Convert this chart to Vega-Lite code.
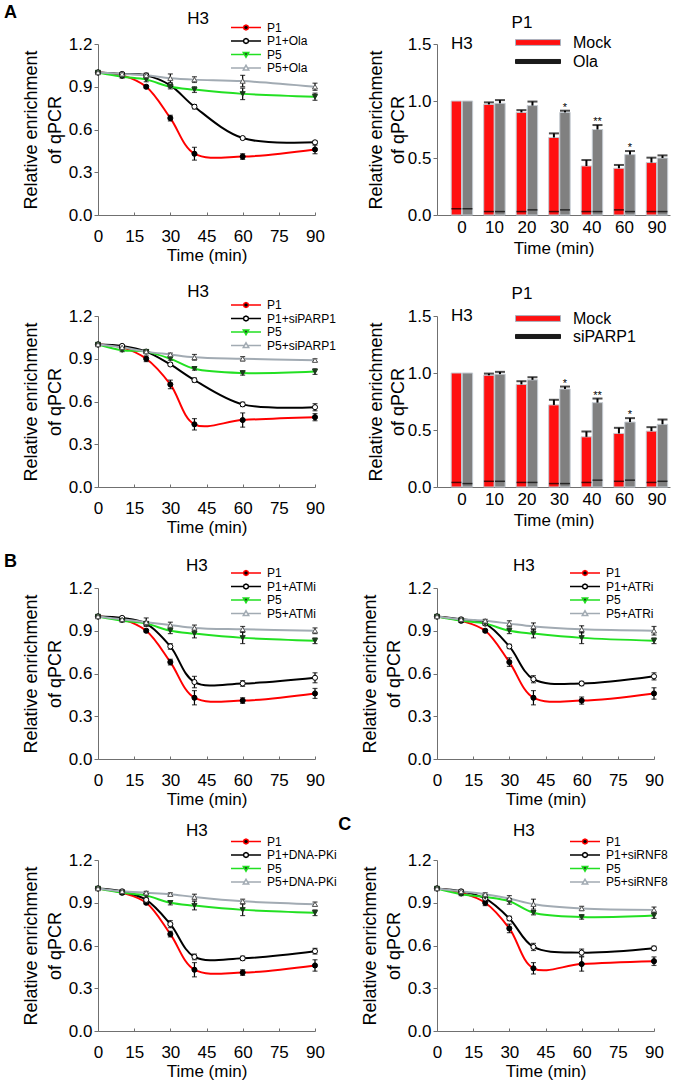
{
"$schema": "https://vega.github.io/schema/vega-lite/v6.json",
"background": "white",
"padding": {"left": 3, "top": 4, "right": 5, "bottom": 2},
"config": {
  "font": "Liberation Sans",
  "view": {"stroke": null},
  "axis": {"grid": false, "domainColor": "#707070", "tickColor": "#707070", "labelColor": "black", "titleColor": "black", "labelFontSize": 17, "titleFontSize": 17, "titleFontWeight": "normal", "labelFont": "Liberation Sans", "titleFont": "Liberation Sans", "labelFlush": false, "labelOverlap": false},
  "legend": {"labelColor": "black", "labelFont": "Liberation Sans", "padding": 0},
  "text": {"font": "Liberation Sans", "color": "black"}
},
"datasets": {
  "ola": [
    {"series":"P1","t":0,"v":1.0,"e":0},{"series":"P1","t":10,"v":0.98,"e":0.01},{"series":"P1","t":20,"v":0.90,"e":0.01},{"series":"P1","t":30,"v":0.68,"e":0.02},{"series":"P1","t":40,"v":0.43,"e":0.045},{"series":"P1","t":60,"v":0.41,"e":0.02},{"series":"P1","t":90,"v":0.46,"e":0.03},
    {"series":"P1+Ola","t":0,"v":1.0,"e":0},{"series":"P1+Ola","t":10,"v":0.99,"e":0.01},{"series":"P1+Ola","t":20,"v":0.98,"e":0.015},{"series":"P1+Ola","t":30,"v":0.91,"e":0.01},{"series":"P1+Ola","t":40,"v":0.76,"e":0.015},{"series":"P1+Ola","t":60,"v":0.54,"e":0.01},{"series":"P1+Ola","t":90,"v":0.51,"e":0.01},
    {"series":"P5","t":0,"v":1.0,"e":0},{"series":"P5","t":10,"v":0.97,"e":0.01},{"series":"P5","t":20,"v":0.95,"e":0.015},{"series":"P5","t":30,"v":0.90,"e":0.015},{"series":"P5","t":40,"v":0.88,"e":0.02},{"series":"P5","t":60,"v":0.85,"e":0.04},{"series":"P5","t":90,"v":0.83,"e":0.025},
    {"series":"P5+Ola","t":0,"v":1.0,"e":0},{"series":"P5+Ola","t":10,"v":0.99,"e":0.01},{"series":"P5+Ola","t":20,"v":0.98,"e":0.01},{"series":"P5+Ola","t":30,"v":0.96,"e":0.03},{"series":"P5+Ola","t":40,"v":0.95,"e":0.02},{"series":"P5+Ola","t":60,"v":0.94,"e":0.04},{"series":"P5+Ola","t":90,"v":0.90,"e":0.025}
  ],
  "parp": [
    {"series":"P1","t":0,"v":1.0,"e":0},{"series":"P1","t":10,"v":0.98,"e":0.01},{"series":"P1","t":20,"v":0.90,"e":0.02},{"series":"P1","t":30,"v":0.72,"e":0.03},{"series":"P1","t":40,"v":0.44,"e":0.04},{"series":"P1","t":60,"v":0.47,"e":0.05},{"series":"P1","t":90,"v":0.49,"e":0.025},
    {"series":"P1+siPARP1","t":0,"v":1.0,"e":0},{"series":"P1+siPARP1","t":10,"v":0.99,"e":0.01},{"series":"P1+siPARP1","t":20,"v":0.95,"e":0.01},{"series":"P1+siPARP1","t":30,"v":0.86,"e":0.01},{"series":"P1+siPARP1","t":40,"v":0.75,"e":0.015},{"series":"P1+siPARP1","t":60,"v":0.58,"e":0.015},{"series":"P1+siPARP1","t":90,"v":0.56,"e":0.025},
    {"series":"P5","t":0,"v":1.0,"e":0},{"series":"P5","t":10,"v":0.96,"e":0.01},{"series":"P5","t":20,"v":0.95,"e":0.01},{"series":"P5","t":30,"v":0.90,"e":0.01},{"series":"P5","t":40,"v":0.83,"e":0.01},{"series":"P5","t":60,"v":0.80,"e":0.015},{"series":"P5","t":90,"v":0.81,"e":0.02},
    {"series":"P5+siPARP1","t":0,"v":1.0,"e":0},{"series":"P5+siPARP1","t":10,"v":0.98,"e":0.01},{"series":"P5+siPARP1","t":20,"v":0.95,"e":0.01},{"series":"P5+siPARP1","t":30,"v":0.93,"e":0.01},{"series":"P5+siPARP1","t":40,"v":0.91,"e":0.02},{"series":"P5+siPARP1","t":60,"v":0.90,"e":0.015},{"series":"P5+siPARP1","t":90,"v":0.89,"e":0.01}
  ],
  "atm": [
    {"series":"P1","t":0,"v":1.0,"e":0},{"series":"P1","t":10,"v":0.98,"e":0.01},{"series":"P1","t":20,"v":0.90,"e":0.01},{"series":"P1","t":30,"v":0.68,"e":0.02},{"series":"P1","t":40,"v":0.43,"e":0.05},{"series":"P1","t":60,"v":0.41,"e":0.02},{"series":"P1","t":90,"v":0.46,"e":0.035},
    {"series":"P1+ATMi","t":0,"v":1.0,"e":0},{"series":"P1+ATMi","t":10,"v":0.99,"e":0.01},{"series":"P1+ATMi","t":20,"v":0.95,"e":0.01},{"series":"P1+ATMi","t":30,"v":0.79,"e":0.02},{"series":"P1+ATMi","t":40,"v":0.54,"e":0.04},{"series":"P1+ATMi","t":60,"v":0.53,"e":0.02},{"series":"P1+ATMi","t":90,"v":0.57,"e":0.035},
    {"series":"P5","t":0,"v":1.0,"e":0},{"series":"P5","t":10,"v":0.97,"e":0.01},{"series":"P5","t":20,"v":0.95,"e":0.015},{"series":"P5","t":30,"v":0.90,"e":0.02},{"series":"P5","t":40,"v":0.88,"e":0.03},{"series":"P5","t":60,"v":0.85,"e":0.04},{"series":"P5","t":90,"v":0.83,"e":0.02},
    {"series":"P5+ATMi","t":0,"v":1.0,"e":0},{"series":"P5+ATMi","t":10,"v":0.98,"e":0.01},{"series":"P5+ATMi","t":20,"v":0.96,"e":0.03},{"series":"P5+ATMi","t":30,"v":0.94,"e":0.02},{"series":"P5+ATMi","t":40,"v":0.92,"e":0.02},{"series":"P5+ATMi","t":60,"v":0.91,"e":0.02},{"series":"P5+ATMi","t":90,"v":0.90,"e":0.02}
  ],
  "atr": [
    {"series":"P1","t":0,"v":1.0,"e":0},{"series":"P1","t":10,"v":0.97,"e":0.01},{"series":"P1","t":20,"v":0.90,"e":0.01},{"series":"P1","t":30,"v":0.68,"e":0.03},{"series":"P1","t":40,"v":0.43,"e":0.05},{"series":"P1","t":60,"v":0.41,"e":0.025},{"series":"P1","t":90,"v":0.46,"e":0.04},
    {"series":"P1+ATRi","t":0,"v":1.0,"e":0},{"series":"P1+ATRi","t":10,"v":0.98,"e":0.01},{"series":"P1+ATRi","t":20,"v":0.95,"e":0.01},{"series":"P1+ATRi","t":30,"v":0.79,"e":0.015},{"series":"P1+ATRi","t":40,"v":0.56,"e":0.025},{"series":"P1+ATRi","t":60,"v":0.53,"e":0.015},{"series":"P1+ATRi","t":90,"v":0.58,"e":0.025},
    {"series":"P5","t":0,"v":1.0,"e":0},{"series":"P5","t":10,"v":0.97,"e":0.01},{"series":"P5","t":20,"v":0.95,"e":0.01},{"series":"P5","t":30,"v":0.90,"e":0.02},{"series":"P5","t":40,"v":0.88,"e":0.03},{"series":"P5","t":60,"v":0.85,"e":0.04},{"series":"P5","t":90,"v":0.83,"e":0.02},
    {"series":"P5+ATRi","t":0,"v":1.0,"e":0},{"series":"P5+ATRi","t":10,"v":0.98,"e":0.01},{"series":"P5+ATRi","t":20,"v":0.97,"e":0.01},{"series":"P5+ATRi","t":30,"v":0.95,"e":0.02},{"series":"P5+ATRi","t":40,"v":0.93,"e":0.025},{"series":"P5+ATRi","t":60,"v":0.91,"e":0.025},{"series":"P5+ATRi","t":90,"v":0.90,"e":0.03}
  ],
  "dnapk": [
    {"series":"P1","t":0,"v":1.0,"e":0},{"series":"P1","t":10,"v":0.97,"e":0.01},{"series":"P1","t":20,"v":0.90,"e":0.01},{"series":"P1","t":30,"v":0.68,"e":0.02},{"series":"P1","t":40,"v":0.43,"e":0.05},{"series":"P1","t":60,"v":0.41,"e":0.02},{"series":"P1","t":90,"v":0.46,"e":0.04},
    {"series":"P1+DNA-PKi","t":0,"v":1.0,"e":0},{"series":"P1+DNA-PKi","t":10,"v":0.98,"e":0.01},{"series":"P1+DNA-PKi","t":20,"v":0.92,"e":0.01},{"series":"P1+DNA-PKi","t":30,"v":0.75,"e":0.025},{"series":"P1+DNA-PKi","t":40,"v":0.52,"e":0.02},{"series":"P1+DNA-PKi","t":60,"v":0.51,"e":0.015},{"series":"P1+DNA-PKi","t":90,"v":0.56,"e":0.02},
    {"series":"P5","t":0,"v":1.0,"e":0},{"series":"P5","t":10,"v":0.97,"e":0.01},{"series":"P5","t":20,"v":0.95,"e":0.01},{"series":"P5","t":30,"v":0.90,"e":0.015},{"series":"P5","t":40,"v":0.88,"e":0.03},{"series":"P5","t":60,"v":0.85,"e":0.04},{"series":"P5","t":90,"v":0.83,"e":0.02},
    {"series":"P5+DNA-PKi","t":0,"v":1.0,"e":0},{"series":"P5+DNA-PKi","t":10,"v":0.98,"e":0.01},{"series":"P5+DNA-PKi","t":20,"v":0.97,"e":0.01},{"series":"P5+DNA-PKi","t":30,"v":0.96,"e":0.01},{"series":"P5+DNA-PKi","t":40,"v":0.94,"e":0.02},{"series":"P5+DNA-PKi","t":60,"v":0.91,"e":0.015},{"series":"P5+DNA-PKi","t":90,"v":0.89,"e":0.015}
  ],
  "rnf8": [
    {"series":"P1","t":0,"v":1.0,"e":0},{"series":"P1","t":10,"v":0.97,"e":0.01},{"series":"P1","t":20,"v":0.90,"e":0.02},{"series":"P1","t":30,"v":0.72,"e":0.03},{"series":"P1","t":40,"v":0.44,"e":0.04},{"series":"P1","t":60,"v":0.47,"e":0.05},{"series":"P1","t":90,"v":0.49,"e":0.03},
    {"series":"P1+siRNF8","t":0,"v":1.0,"e":0},{"series":"P1+siRNF8","t":10,"v":0.98,"e":0.01},{"series":"P1+siRNF8","t":20,"v":0.93,"e":0.01},{"series":"P1+siRNF8","t":30,"v":0.79,"e":0.015},{"series":"P1+siRNF8","t":40,"v":0.59,"e":0.025},{"series":"P1+siRNF8","t":60,"v":0.55,"e":0.025},{"series":"P1+siRNF8","t":90,"v":0.58,"e":0.015},
    {"series":"P5","t":0,"v":1.0,"e":0},{"series":"P5","t":10,"v":0.96,"e":0.01},{"series":"P5","t":20,"v":0.94,"e":0.01},{"series":"P5","t":30,"v":0.91,"e":0.02},{"series":"P5","t":40,"v":0.83,"e":0.015},{"series":"P5","t":60,"v":0.80,"e":0.015},{"series":"P5","t":90,"v":0.81,"e":0.02},
    {"series":"P5+siRNF8","t":0,"v":1.0,"e":0},{"series":"P5+siRNF8","t":10,"v":0.98,"e":0.01},{"series":"P5+siRNF8","t":20,"v":0.96,"e":0.01},{"series":"P5+siRNF8","t":30,"v":0.93,"e":0.02},{"series":"P5+siRNF8","t":40,"v":0.89,"e":0.035},{"series":"P5+siRNF8","t":60,"v":0.86,"e":0.015},{"series":"P5+siRNF8","t":90,"v":0.85,"e":0.02}
  ],
  "bola": [
    {"time":0,"group":"Mock","v":1.0,"hi":1.0,"base":0.055},{"time":0,"group":"Ola","v":1.0,"hi":1.0,"base":0.055},
    {"time":10,"group":"Mock","v":0.97,"hi":0.988,"base":0.03},{"time":10,"group":"Ola","v":0.98,"hi":1.008,"base":0.03},
    {"time":20,"group":"Mock","v":0.90,"hi":0.92,"base":0.03},{"time":20,"group":"Ola","v":0.96,"hi":0.995,"base":0.045},
    {"time":30,"group":"Mock","v":0.68,"hi":0.716,"base":0.03},{"time":30,"group":"Ola","v":0.90,"hi":0.915,"base":0.045,"sig":"*"},
    {"time":40,"group":"Mock","v":0.43,"hi":0.482,"base":0.03},{"time":40,"group":"Ola","v":0.75,"hi":0.789,"base":0.03,"sig":"**"},
    {"time":60,"group":"Mock","v":0.41,"hi":0.439,"base":0.045},{"time":60,"group":"Ola","v":0.53,"hi":0.561,"base":0.03,"sig":"*"},
    {"time":90,"group":"Mock","v":0.46,"hi":0.503,"base":0.03},{"time":90,"group":"Ola","v":0.50,"hi":0.523,"base":0.03}
  ],
  "bparp": [
    {"time":0,"group":"Mock","v":1.0,"hi":1.0,"base":0.04},{"time":0,"group":"siPARP1","v":1.0,"hi":1.0,"base":0.03},
    {"time":10,"group":"Mock","v":0.98,"hi":0.995,"base":0.05},{"time":10,"group":"siPARP1","v":0.99,"hi":1.01,"base":0.05},
    {"time":20,"group":"Mock","v":0.90,"hi":0.928,"base":0.04},{"time":20,"group":"siPARP1","v":0.94,"hi":0.963,"base":0.04},
    {"time":30,"group":"Mock","v":0.72,"hi":0.765,"base":0.03},{"time":30,"group":"siPARP1","v":0.86,"hi":0.881,"base":0.03,"sig":"*"},
    {"time":40,"group":"Mock","v":0.44,"hi":0.487,"base":0.04},{"time":40,"group":"siPARP1","v":0.74,"hi":0.776,"base":0.06,"sig":"**"},
    {"time":60,"group":"Mock","v":0.47,"hi":0.519,"base":0.05},{"time":60,"group":"siPARP1","v":0.57,"hi":0.604,"base":0.06,"sig":"*"},
    {"time":90,"group":"Mock","v":0.49,"hi":0.525,"base":0.04},{"time":90,"group":"siPARP1","v":0.55,"hi":0.592,"base":0.05}
  ]
},
"columns": 2,
"spacing": {"row": 101, "column": 122},
"bounds": "flush",
"resolve": {"scale": {"color": "independent", "shape": "independent", "fill": "independent", "stroke": "independent", "xOffset": "independent"}, "legend": {"color": "independent", "shape": "independent", "fill": "independent", "stroke": "independent"}},
"concat": [
{
 "width": 217, "height": 171,
 "data": {"name": "ola"},
 "encoding": {
  "x": {"field": "t", "type": "quantitative", "scale": {"domain": [0, 90], "nice": false}, "axis": {"values": [0,15,30,45,60,75,90], "title": "Time (min)", "tickSize": -3, "labelPadding": 16, "titlePadding": 3}},
  "y": {"field": "v", "type": "quantitative", "scale": {"domain": [0, 1.2], "nice": false}, "axis": {"values": [0,0.3,0.6,0.9,1.2], "format": ".1f", "title": ["Relative enrichment", "of qPCR"], "tickSize": 4, "labelPadding": 2, "titlePadding": 4, "titleFontSize": 18, "titleLineHeight": 24}}
 },
 "resolve": {"scale": {"shape": "independent", "fill": "independent", "stroke": "independent"}},
 "layer": [
  {"mark": {"type": "line", "interpolate": "catmull-rom", "strokeWidth": 2}, "encoding": {"color": {"field": "series", "type": "nominal", "scale": {"domain": ["P1","P1+Ola","P5","P5+Ola"], "range": ["#ff0000","#000000","#22e022","#a2abb3"]}, "legend": null}}},
  {"transform": [{"filter": "datum.e > 0"}], "mark": {"type": "errorbar", "ticks": {"size": 5}, "color": "black", "thickness": 1.2}, "encoding": {"yError": {"field": "e"}}},
  {"mark": {"type": "point", "filled": true, "size": 26, "strokeWidth": 1, "opacity": 1}, "encoding": {
    "shape": {"field": "series", "type": "nominal", "scale": {"domain": ["P1","P1+Ola","P5","P5+Ola"], "range": ["circle","circle","triangle-down","triangle-up"]}, "legend": null},
    "fill": {"field": "series", "type": "nominal", "scale": {"domain": ["P1","P1+Ola","P5","P5+Ola"], "range": ["#000000","#ffffff","#1c3b1c","#ffffff"]}, "legend": null},
    "stroke": {"field": "series", "type": "nominal", "scale": {"domain": ["P1","P1+Ola","P5","P5+Ola"], "range": ["#000000","#000000","#1c3b1c","#555555"]}, "legend": null}}},
  {"mark": {"type": "point", "filled": true, "opacity": 0}, "encoding": {
    "shape": {"field": "series", "type": "nominal", "scale": {"domain": ["P1","P1+Ola","P5","P5+Ola"], "range": ["M-1,0L-0.17,0M0.17,0L1,0M0.17,0L0.12,0.12L0,0.17L-0.12,0.12L-0.17,0L-0.12,-0.12L0,-0.17L0.12,-0.12Z","M-1,0L-0.17,0M0.17,0L1,0M0.17,0L0.12,0.12L0,0.17L-0.12,0.12L-0.17,0L-0.12,-0.12L0,-0.17L0.12,-0.12Z","M-1,0L-0.11,0M0.11,0L1,0M-0.18,-0.13L0.18,-0.13L0,0.18Z","M-1,0L-0.11,0M0.11,0L1,0M-0.18,0.13L0.18,0.13L0,-0.18Z"]}, "legend": {"orient": "none", "legendX": 132, "legendY": -23, "title": null, "labelFontSize": 12, "symbolSize": 900, "symbolOpacity": 1, "symbolStrokeWidth": 1.5, "clipHeight": 13, "rowPadding": 0.5, "labelOffset": 5}},
    "fill": {"field": "series", "type": "nominal", "scale": {"domain": ["P1","P1+Ola","P5","P5+Ola"], "range": ["#000000","#ffffff","#1c3b1c","#ffffff"]}, "legend": {"orient": "none", "legendX": 132, "legendY": -23, "title": null, "labelFontSize": 12, "symbolSize": 900, "symbolOpacity": 1, "symbolStrokeWidth": 1.5, "clipHeight": 13, "rowPadding": 0.5, "labelOffset": 5}},
    "stroke": {"field": "series", "type": "nominal", "scale": {"domain": ["P1","P1+Ola","P5","P5+Ola"], "range": ["#ff0000","#000000","#22e022","#a2abb3"]}, "legend": {"orient": "none", "legendX": 132, "legendY": -23, "title": null, "labelFontSize": 12, "symbolSize": 900, "symbolOpacity": 1, "symbolStrokeWidth": 1.5, "clipHeight": 13, "rowPadding": 0.5, "labelOffset": 5}}}},
  {"data": {"values": [{"t": 41.5, "v": 1.374, "txt": "H3"}]}, "mark": {"type": "text", "fontSize": 17, "align": "center", "baseline": "middle"}, "encoding": {"text": {"field": "txt"}}},
  {"data": {"values": [{"t": -39, "v": 1.38, "txt": "A"}]}, "mark": {"type": "text", "fontSize": 18, "fontWeight": "bold", "align": "left", "baseline": "alphabetic"}, "encoding": {"text": {"field": "txt"}}}
 ]
},
{
 "width": 233, "height": 171,
 "data": {"name": "bola"},
 "encoding": {
  "x": {"field": "time", "type": "ordinal", "scale": {"paddingInner": 0.34, "paddingOuter": 0.254, "align": 0.86}, "axis": {"title": "Time (min)", "ticks": false, "tickSize": 0, "labelPadding": 4, "titlePadding": 5, "labelAngle": 0}},
  "y": {"field": "v", "type": "quantitative", "scale": {"domain": [0, 1.5], "nice": false}, "axis": {"values": [0, 0.5, 1, 1.5], "format": ".1f", "title": ["Relative enrichment", "of qPCR"], "tickSize": 4, "labelPadding": 2, "titlePadding": 0, "titleFontSize": 18, "titleLineHeight": 22}}
 },
 "resolve": {"scale": {"shape": "independent", "fill": "independent", "stroke": "independent"}},
 "layer": [
  {"mark": {"type": "bar", "stroke": "#c5ccd3", "strokeWidth": 1}, "encoding": {"xOffset": {"field": "group", "type": "nominal", "scale": {"domain": ["Mock","Ola"], "paddingInner": 0.06}}, "color": {"field": "group", "type": "nominal", "scale": {"domain": ["Mock","Ola"], "range": ["#ff1010","#808080"]}, "legend": null}}},
  {"mark": {"type": "tick", "color": "black", "thickness": 1.5, "size": 10}, "encoding": {"xOffset": {"field": "group", "type": "nominal", "scale": {"domain": ["Mock","Ola"], "paddingInner": 0.06}}, "y": {"field": "base", "type": "quantitative"}}},
  {"transform": [{"filter": "datum.hi > datum.v"}], "mark": {"type": "rule", "color": "black", "strokeWidth": 2}, "encoding": {"xOffset": {"field": "group", "type": "nominal", "scale": {"domain": ["Mock","Ola"], "paddingInner": 0.06}}, "y2": {"field": "hi"}}},
  {"transform": [{"filter": "datum.hi > datum.v"}], "mark": {"type": "tick", "color": "black", "thickness": 2, "size": 10}, "encoding": {"xOffset": {"field": "group", "type": "nominal", "scale": {"domain": ["Mock","Ola"], "paddingInner": 0.06}}, "y": {"field": "hi", "type": "quantitative"}}},
  {"transform": [{"filter": "isValid(datum.sig)"}], "mark": {"type": "text", "fontSize": 11, "baseline": "bottom", "dy": 2}, "encoding": {"xOffset": {"field": "group", "type": "nominal", "scale": {"domain": ["Mock","Ola"], "paddingInner": 0.06}}, "y": {"field": "hi", "type": "quantitative"}, "text": {"field": "sig"}}},
  {"data": {"values": [{"time": 0, "v": 1.5, "txt": "H3"}]}, "mark": {"type": "text", "fontSize": 17, "baseline": "middle", "align": "center"}, "encoding": {"text": {"field": "txt"}}},
  {"data": {"values": [{"time": 20, "v": 1.685, "txt": "P1"}]}, "mark": {"type": "text", "fontSize": 17, "baseline": "middle", "align": "center", "dx": -5}, "encoding": {"text": {"field": "txt"}}},
  {"mark": {"type": "point", "filled": true, "opacity": 0}, "encoding": {
    "shape": {"field": "group", "type": "nominal", "scale": {"domain": ["Mock","Ola"], "range": ["M-1,-0.13L1,-0.13L1,0.13L-1,0.13Z","M-1,-0.09L1,-0.09L1,0.09L-1,0.09Z"]}, "legend": {"orient": "none", "legendX": 78, "legendY": -10, "title": null, "labelFontSize": 16, "symbolSize": 2025, "symbolOpacity": 1, "symbolStrokeWidth": 1, "clipHeight": 17, "rowPadding": 2, "labelOffset": 12}},
    "fill": {"field": "group", "type": "nominal", "scale": {"domain": ["Mock","Ola"], "range": ["#ff1010","#1a1a1a"]}, "legend": {"orient": "none", "legendX": 78, "legendY": -10, "title": null, "labelFontSize": 16, "symbolSize": 2025, "symbolOpacity": 1, "symbolStrokeWidth": 1, "clipHeight": 17, "rowPadding": 2, "labelOffset": 12}},
    "stroke": {"field": "group", "type": "nominal", "scale": {"domain": ["Mock","Ola"], "range": ["#a8b4c0","#1a1a1a"]}, "legend": {"orient": "none", "legendX": 78, "legendY": -10, "title": null, "labelFontSize": 16, "symbolSize": 2025, "symbolOpacity": 1, "symbolStrokeWidth": 1, "clipHeight": 17, "rowPadding": 2, "labelOffset": 12}}}}
 ]
},
{
 "width": 217, "height": 171,
 "data": {"name": "parp"},
 "encoding": {
  "x": {"field": "t", "type": "quantitative", "scale": {"domain": [0, 90], "nice": false}, "axis": {"values": [0,15,30,45,60,75,90], "title": "Time (min)", "tickSize": -3, "labelPadding": 16, "titlePadding": 3}},
  "y": {"field": "v", "type": "quantitative", "scale": {"domain": [0, 1.2], "nice": false}, "axis": {"values": [0,0.3,0.6,0.9,1.2], "format": ".1f", "title": ["Relative enrichment", "of qPCR"], "tickSize": 4, "labelPadding": 2, "titlePadding": 4, "titleFontSize": 18, "titleLineHeight": 24}}
 },
 "resolve": {"scale": {"shape": "independent", "fill": "independent", "stroke": "independent"}},
 "layer": [
  {"mark": {"type": "line", "interpolate": "catmull-rom", "strokeWidth": 2}, "encoding": {"color": {"field": "series", "type": "nominal", "scale": {"domain": ["P1","P1+siPARP1","P5","P5+siPARP1"], "range": ["#ff0000","#000000","#22e022","#a2abb3"]}, "legend": null}}},
  {"transform": [{"filter": "datum.e > 0"}], "mark": {"type": "errorbar", "ticks": {"size": 5}, "color": "black", "thickness": 1.2}, "encoding": {"yError": {"field": "e"}}},
  {"mark": {"type": "point", "filled": true, "size": 26, "strokeWidth": 1, "opacity": 1}, "encoding": {
    "shape": {"field": "series", "type": "nominal", "scale": {"domain": ["P1","P1+siPARP1","P5","P5+siPARP1"], "range": ["circle","circle","triangle-down","triangle-up"]}, "legend": null},
    "fill": {"field": "series", "type": "nominal", "scale": {"domain": ["P1","P1+siPARP1","P5","P5+siPARP1"], "range": ["#000000","#ffffff","#1c3b1c","#ffffff"]}, "legend": null},
    "stroke": {"field": "series", "type": "nominal", "scale": {"domain": ["P1","P1+siPARP1","P5","P5+siPARP1"], "range": ["#000000","#000000","#1c3b1c","#555555"]}, "legend": null}}},
  {"mark": {"type": "point", "filled": true, "opacity": 0}, "encoding": {
    "shape": {"field": "series", "type": "nominal", "scale": {"domain": ["P1","P1+siPARP1","P5","P5+siPARP1"], "range": ["M-1,0L-0.17,0M0.17,0L1,0M0.17,0L0.12,0.12L0,0.17L-0.12,0.12L-0.17,0L-0.12,-0.12L0,-0.17L0.12,-0.12Z","M-1,0L-0.17,0M0.17,0L1,0M0.17,0L0.12,0.12L0,0.17L-0.12,0.12L-0.17,0L-0.12,-0.12L0,-0.17L0.12,-0.12Z","M-1,0L-0.11,0M0.11,0L1,0M-0.18,-0.13L0.18,-0.13L0,0.18Z","M-1,0L-0.11,0M0.11,0L1,0M-0.18,0.13L0.18,0.13L0,-0.18Z"]}, "legend": {"orient": "none", "legendX": 132, "legendY": -17.5, "title": null, "labelFontSize": 12, "symbolSize": 900, "symbolOpacity": 1, "symbolStrokeWidth": 1.5, "clipHeight": 13, "rowPadding": 0.5, "labelOffset": 5}},
    "fill": {"field": "series", "type": "nominal", "scale": {"domain": ["P1","P1+siPARP1","P5","P5+siPARP1"], "range": ["#000000","#ffffff","#1c3b1c","#ffffff"]}, "legend": {"orient": "none", "legendX": 132, "legendY": -17.5, "title": null, "labelFontSize": 12, "symbolSize": 900, "symbolOpacity": 1, "symbolStrokeWidth": 1.5, "clipHeight": 13, "rowPadding": 0.5, "labelOffset": 5}},
    "stroke": {"field": "series", "type": "nominal", "scale": {"domain": ["P1","P1+siPARP1","P5","P5+siPARP1"], "range": ["#ff0000","#000000","#22e022","#a2abb3"]}, "legend": {"orient": "none", "legendX": 132, "legendY": -17.5, "title": null, "labelFontSize": 12, "symbolSize": 900, "symbolOpacity": 1, "symbolStrokeWidth": 1.5, "clipHeight": 13, "rowPadding": 0.5, "labelOffset": 5}}}},
  {"data": {"values": [{"t": 41.5, "v": 1.37, "txt": "H3"}]}, "mark": {"type": "text", "fontSize": 17, "align": "center", "baseline": "middle"}, "encoding": {"text": {"field": "txt"}}}
 ]
},
{
 "width": 233, "height": 171,
 "data": {"name": "bparp"},
 "encoding": {
  "x": {"field": "time", "type": "ordinal", "scale": {"paddingInner": 0.34, "paddingOuter": 0.254, "align": 0.86}, "axis": {"title": "Time (min)", "ticks": false, "tickSize": 0, "labelPadding": 4, "titlePadding": 5, "labelAngle": 0}},
  "y": {"field": "v", "type": "quantitative", "scale": {"domain": [0, 1.5], "nice": false}, "axis": {"values": [0, 0.5, 1, 1.5], "format": ".1f", "title": ["Relative enrichment", "of qPCR"], "tickSize": 4, "labelPadding": 2, "titlePadding": 0, "titleFontSize": 18, "titleLineHeight": 22}}
 },
 "resolve": {"scale": {"shape": "independent", "fill": "independent", "stroke": "independent"}},
 "layer": [
  {"mark": {"type": "bar", "stroke": "#c5ccd3", "strokeWidth": 1}, "encoding": {"xOffset": {"field": "group", "type": "nominal", "scale": {"domain": ["Mock","siPARP1"], "paddingInner": 0.06}}, "color": {"field": "group", "type": "nominal", "scale": {"domain": ["Mock","siPARP1"], "range": ["#ff1010","#808080"]}, "legend": null}}},
  {"mark": {"type": "tick", "color": "black", "thickness": 1.5, "size": 10}, "encoding": {"xOffset": {"field": "group", "type": "nominal", "scale": {"domain": ["Mock","siPARP1"], "paddingInner": 0.06}}, "y": {"field": "base", "type": "quantitative"}}},
  {"transform": [{"filter": "datum.hi > datum.v"}], "mark": {"type": "rule", "color": "black", "strokeWidth": 2}, "encoding": {"xOffset": {"field": "group", "type": "nominal", "scale": {"domain": ["Mock","siPARP1"], "paddingInner": 0.06}}, "y2": {"field": "hi"}}},
  {"transform": [{"filter": "datum.hi > datum.v"}], "mark": {"type": "tick", "color": "black", "thickness": 2, "size": 10}, "encoding": {"xOffset": {"field": "group", "type": "nominal", "scale": {"domain": ["Mock","siPARP1"], "paddingInner": 0.06}}, "y": {"field": "hi", "type": "quantitative"}}},
  {"transform": [{"filter": "isValid(datum.sig)"}], "mark": {"type": "text", "fontSize": 11, "baseline": "bottom", "dy": 2}, "encoding": {"xOffset": {"field": "group", "type": "nominal", "scale": {"domain": ["Mock","siPARP1"], "paddingInner": 0.06}}, "y": {"field": "hi", "type": "quantitative"}, "text": {"field": "sig"}}},
  {"data": {"values": [{"time": 0, "v": 1.5, "txt": "H3"}]}, "mark": {"type": "text", "fontSize": 17, "baseline": "middle", "align": "center"}, "encoding": {"text": {"field": "txt"}}},
  {"data": {"values": [{"time": 20, "v": 1.69, "txt": "P1"}]}, "mark": {"type": "text", "fontSize": 17, "baseline": "middle", "align": "center", "dx": -5}, "encoding": {"text": {"field": "txt"}}},
  {"mark": {"type": "point", "filled": true, "opacity": 0}, "encoding": {
    "shape": {"field": "group", "type": "nominal", "scale": {"domain": ["Mock","siPARP1"], "range": ["M-1,-0.13L1,-0.13L1,0.13L-1,0.13Z","M-1,-0.09L1,-0.09L1,0.09L-1,0.09Z"]}, "legend": {"orient": "none", "legendX": 78, "legendY": -6, "title": null, "labelFontSize": 16, "symbolSize": 2025, "symbolOpacity": 1, "symbolStrokeWidth": 1, "clipHeight": 17, "rowPadding": 1, "labelOffset": 12}},
    "fill": {"field": "group", "type": "nominal", "scale": {"domain": ["Mock","siPARP1"], "range": ["#ff1010","#1a1a1a"]}, "legend": {"orient": "none", "legendX": 78, "legendY": -6, "title": null, "labelFontSize": 16, "symbolSize": 2025, "symbolOpacity": 1, "symbolStrokeWidth": 1, "clipHeight": 17, "rowPadding": 1, "labelOffset": 12}},
    "stroke": {"field": "group", "type": "nominal", "scale": {"domain": ["Mock","siPARP1"], "range": ["#a8b4c0","#1a1a1a"]}, "legend": {"orient": "none", "legendX": 78, "legendY": -6, "title": null, "labelFontSize": 16, "symbolSize": 2025, "symbolOpacity": 1, "symbolStrokeWidth": 1, "clipHeight": 17, "rowPadding": 1, "labelOffset": 12}}}}
 ]
},
{
 "width": 217, "height": 171,
 "data": {"name": "atm"},
 "encoding": {
  "x": {"field": "t", "type": "quantitative", "scale": {"domain": [0, 90], "nice": false}, "axis": {"values": [0,15,30,45,60,75,90], "title": "Time (min)", "tickSize": -3, "labelPadding": 16, "titlePadding": 3}},
  "y": {"field": "v", "type": "quantitative", "scale": {"domain": [0, 1.2], "nice": false}, "axis": {"values": [0,0.3,0.6,0.9,1.2], "format": ".1f", "title": ["Relative enrichment", "of qPCR"], "tickSize": 4, "labelPadding": 2, "titlePadding": 4, "titleFontSize": 18, "titleLineHeight": 24}}
 },
 "resolve": {"scale": {"shape": "independent", "fill": "independent", "stroke": "independent"}},
 "layer": [
  {"mark": {"type": "line", "interpolate": "catmull-rom", "strokeWidth": 2}, "encoding": {"color": {"field": "series", "type": "nominal", "scale": {"domain": ["P1","P1+ATMi","P5","P5+ATMi"], "range": ["#ff0000","#000000","#22e022","#a2abb3"]}, "legend": null}}},
  {"transform": [{"filter": "datum.e > 0"}], "mark": {"type": "errorbar", "ticks": {"size": 5}, "color": "black", "thickness": 1.2}, "encoding": {"yError": {"field": "e"}}},
  {"mark": {"type": "point", "filled": true, "size": 26, "strokeWidth": 1, "opacity": 1}, "encoding": {
    "shape": {"field": "series", "type": "nominal", "scale": {"domain": ["P1","P1+ATMi","P5","P5+ATMi"], "range": ["circle","circle","triangle-down","triangle-up"]}, "legend": null},
    "fill": {"field": "series", "type": "nominal", "scale": {"domain": ["P1","P1+ATMi","P5","P5+ATMi"], "range": ["#000000","#ffffff","#1c3b1c","#ffffff"]}, "legend": null},
    "stroke": {"field": "series", "type": "nominal", "scale": {"domain": ["P1","P1+ATMi","P5","P5+ATMi"], "range": ["#000000","#000000","#1c3b1c","#555555"]}, "legend": null}}},
  {"mark": {"type": "point", "filled": true, "opacity": 0}, "encoding": {
    "shape": {"field": "series", "type": "nominal", "scale": {"domain": ["P1","P1+ATMi","P5","P5+ATMi"], "range": ["M-1,0L-0.17,0M0.17,0L1,0M0.17,0L0.12,0.12L0,0.17L-0.12,0.12L-0.17,0L-0.12,-0.12L0,-0.17L0.12,-0.12Z","M-1,0L-0.17,0M0.17,0L1,0M0.17,0L0.12,0.12L0,0.17L-0.12,0.12L-0.17,0L-0.12,-0.12L0,-0.17L0.12,-0.12Z","M-1,0L-0.11,0M0.11,0L1,0M-0.18,-0.13L0.18,-0.13L0,0.18Z","M-1,0L-0.11,0M0.11,0L1,0M-0.18,0.13L0.18,0.13L0,-0.18Z"]}, "legend": {"orient": "none", "legendX": 132, "legendY": -21.5, "title": null, "labelFontSize": 12, "symbolSize": 900, "symbolOpacity": 1, "symbolStrokeWidth": 1.5, "clipHeight": 13, "rowPadding": 0.5, "labelOffset": 5}},
    "fill": {"field": "series", "type": "nominal", "scale": {"domain": ["P1","P1+ATMi","P5","P5+ATMi"], "range": ["#000000","#ffffff","#1c3b1c","#ffffff"]}, "legend": {"orient": "none", "legendX": 132, "legendY": -21.5, "title": null, "labelFontSize": 12, "symbolSize": 900, "symbolOpacity": 1, "symbolStrokeWidth": 1.5, "clipHeight": 13, "rowPadding": 0.5, "labelOffset": 5}},
    "stroke": {"field": "series", "type": "nominal", "scale": {"domain": ["P1","P1+ATMi","P5","P5+ATMi"], "range": ["#ff0000","#000000","#22e022","#a2abb3"]}, "legend": {"orient": "none", "legendX": 132, "legendY": -21.5, "title": null, "labelFontSize": 12, "symbolSize": 900, "symbolOpacity": 1, "symbolStrokeWidth": 1.5, "clipHeight": 13, "rowPadding": 0.5, "labelOffset": 5}}}},
  {"data": {"values": [{"t": 41, "v": 1.356, "txt": "H3"}]}, "mark": {"type": "text", "fontSize": 17, "align": "center", "baseline": "middle"}, "encoding": {"text": {"field": "txt"}}},
  {"data": {"values": [{"t": -39, "v": 1.35, "txt": "B"}]}, "mark": {"type": "text", "fontSize": 18, "fontWeight": "bold", "align": "left", "baseline": "alphabetic"}, "encoding": {"text": {"field": "txt"}}}
 ]
},
{
 "width": 217, "height": 171,
 "data": {"name": "atr"},
 "encoding": {
  "x": {"field": "t", "type": "quantitative", "scale": {"domain": [0, 90], "nice": false}, "axis": {"values": [0,15,30,45,60,75,90], "title": "Time (min)", "tickSize": -3, "labelPadding": 16, "titlePadding": 3}},
  "y": {"field": "v", "type": "quantitative", "scale": {"domain": [0, 1.2], "nice": false}, "axis": {"values": [0,0.3,0.6,0.9,1.2], "format": ".1f", "title": ["Relative enrichment", "of qPCR"], "tickSize": 4, "labelPadding": 2, "titlePadding": 4, "titleFontSize": 18, "titleLineHeight": 24}}
 },
 "resolve": {"scale": {"shape": "independent", "fill": "independent", "stroke": "independent"}},
 "layer": [
  {"mark": {"type": "line", "interpolate": "catmull-rom", "strokeWidth": 2}, "encoding": {"color": {"field": "series", "type": "nominal", "scale": {"domain": ["P1","P1+ATRi","P5","P5+ATRi"], "range": ["#ff0000","#000000","#22e022","#a2abb3"]}, "legend": null}}},
  {"transform": [{"filter": "datum.e > 0"}], "mark": {"type": "errorbar", "ticks": {"size": 5}, "color": "black", "thickness": 1.2}, "encoding": {"yError": {"field": "e"}}},
  {"mark": {"type": "point", "filled": true, "size": 26, "strokeWidth": 1, "opacity": 1}, "encoding": {
    "shape": {"field": "series", "type": "nominal", "scale": {"domain": ["P1","P1+ATRi","P5","P5+ATRi"], "range": ["circle","circle","triangle-down","triangle-up"]}, "legend": null},
    "fill": {"field": "series", "type": "nominal", "scale": {"domain": ["P1","P1+ATRi","P5","P5+ATRi"], "range": ["#000000","#ffffff","#1c3b1c","#ffffff"]}, "legend": null},
    "stroke": {"field": "series", "type": "nominal", "scale": {"domain": ["P1","P1+ATRi","P5","P5+ATRi"], "range": ["#000000","#000000","#1c3b1c","#555555"]}, "legend": null}}},
  {"mark": {"type": "point", "filled": true, "opacity": 0}, "encoding": {
    "shape": {"field": "series", "type": "nominal", "scale": {"domain": ["P1","P1+ATRi","P5","P5+ATRi"], "range": ["M-1,0L-0.17,0M0.17,0L1,0M0.17,0L0.12,0.12L0,0.17L-0.12,0.12L-0.17,0L-0.12,-0.12L0,-0.17L0.12,-0.12Z","M-1,0L-0.17,0M0.17,0L1,0M0.17,0L0.12,0.12L0,0.17L-0.12,0.12L-0.17,0L-0.12,-0.12L0,-0.17L0.12,-0.12Z","M-1,0L-0.11,0M0.11,0L1,0M-0.18,-0.13L0.18,-0.13L0,0.18Z","M-1,0L-0.11,0M0.11,0L1,0M-0.18,0.13L0.18,0.13L0,-0.18Z"]}, "legend": {"orient": "none", "legendX": 132, "legendY": -21.5, "title": null, "labelFontSize": 12, "symbolSize": 900, "symbolOpacity": 1, "symbolStrokeWidth": 1.5, "clipHeight": 13, "rowPadding": 0.5, "labelOffset": 5}},
    "fill": {"field": "series", "type": "nominal", "scale": {"domain": ["P1","P1+ATRi","P5","P5+ATRi"], "range": ["#000000","#ffffff","#1c3b1c","#ffffff"]}, "legend": {"orient": "none", "legendX": 132, "legendY": -21.5, "title": null, "labelFontSize": 12, "symbolSize": 900, "symbolOpacity": 1, "symbolStrokeWidth": 1.5, "clipHeight": 13, "rowPadding": 0.5, "labelOffset": 5}},
    "stroke": {"field": "series", "type": "nominal", "scale": {"domain": ["P1","P1+ATRi","P5","P5+ATRi"], "range": ["#ff0000","#000000","#22e022","#a2abb3"]}, "legend": {"orient": "none", "legendX": 132, "legendY": -21.5, "title": null, "labelFontSize": 12, "symbolSize": 900, "symbolOpacity": 1, "symbolStrokeWidth": 1.5, "clipHeight": 13, "rowPadding": 0.5, "labelOffset": 5}}}},
  {"data": {"values": [{"t": 36, "v": 1.356, "txt": "H3"}]}, "mark": {"type": "text", "fontSize": 17, "align": "center", "baseline": "middle"}, "encoding": {"text": {"field": "txt"}}}
 ]
},
{
 "width": 217, "height": 171,
 "data": {"name": "dnapk"},
 "encoding": {
  "x": {"field": "t", "type": "quantitative", "scale": {"domain": [0, 90], "nice": false}, "axis": {"values": [0,15,30,45,60,75,90], "title": "Time (min)", "tickSize": -3, "labelPadding": 16, "titlePadding": 3}},
  "y": {"field": "v", "type": "quantitative", "scale": {"domain": [0, 1.2], "nice": false}, "axis": {"values": [0,0.3,0.6,0.9,1.2], "format": ".1f", "title": ["Relative enrichment", "of qPCR"], "tickSize": 4, "labelPadding": 2, "titlePadding": 4, "titleFontSize": 18, "titleLineHeight": 24}}
 },
 "resolve": {"scale": {"shape": "independent", "fill": "independent", "stroke": "independent"}},
 "layer": [
  {"mark": {"type": "line", "interpolate": "catmull-rom", "strokeWidth": 2}, "encoding": {"color": {"field": "series", "type": "nominal", "scale": {"domain": ["P1","P1+DNA-PKi","P5","P5+DNA-PKi"], "range": ["#ff0000","#000000","#22e022","#a2abb3"]}, "legend": null}}},
  {"transform": [{"filter": "datum.e > 0"}], "mark": {"type": "errorbar", "ticks": {"size": 5}, "color": "black", "thickness": 1.2}, "encoding": {"yError": {"field": "e"}}},
  {"mark": {"type": "point", "filled": true, "size": 26, "strokeWidth": 1, "opacity": 1}, "encoding": {
    "shape": {"field": "series", "type": "nominal", "scale": {"domain": ["P1","P1+DNA-PKi","P5","P5+DNA-PKi"], "range": ["circle","circle","triangle-down","triangle-up"]}, "legend": null},
    "fill": {"field": "series", "type": "nominal", "scale": {"domain": ["P1","P1+DNA-PKi","P5","P5+DNA-PKi"], "range": ["#000000","#ffffff","#1c3b1c","#ffffff"]}, "legend": null},
    "stroke": {"field": "series", "type": "nominal", "scale": {"domain": ["P1","P1+DNA-PKi","P5","P5+DNA-PKi"], "range": ["#000000","#000000","#1c3b1c","#555555"]}, "legend": null}}},
  {"mark": {"type": "point", "filled": true, "opacity": 0}, "encoding": {
    "shape": {"field": "series", "type": "nominal", "scale": {"domain": ["P1","P1+DNA-PKi","P5","P5+DNA-PKi"], "range": ["M-1,0L-0.17,0M0.17,0L1,0M0.17,0L0.12,0.12L0,0.17L-0.12,0.12L-0.17,0L-0.12,-0.12L0,-0.17L0.12,-0.12Z","M-1,0L-0.17,0M0.17,0L1,0M0.17,0L0.12,0.12L0,0.17L-0.12,0.12L-0.17,0L-0.12,-0.12L0,-0.17L0.12,-0.12Z","M-1,0L-0.11,0M0.11,0L1,0M-0.18,-0.13L0.18,-0.13L0,0.18Z","M-1,0L-0.11,0M0.11,0L1,0M-0.18,0.13L0.18,0.13L0,-0.18Z"]}, "legend": {"orient": "none", "legendX": 132, "legendY": -25, "title": null, "labelFontSize": 12, "symbolSize": 900, "symbolOpacity": 1, "symbolStrokeWidth": 1.5, "clipHeight": 13, "rowPadding": 0.5, "labelOffset": 5}},
    "fill": {"field": "series", "type": "nominal", "scale": {"domain": ["P1","P1+DNA-PKi","P5","P5+DNA-PKi"], "range": ["#000000","#ffffff","#1c3b1c","#ffffff"]}, "legend": {"orient": "none", "legendX": 132, "legendY": -25, "title": null, "labelFontSize": 12, "symbolSize": 900, "symbolOpacity": 1, "symbolStrokeWidth": 1.5, "clipHeight": 13, "rowPadding": 0.5, "labelOffset": 5}},
    "stroke": {"field": "series", "type": "nominal", "scale": {"domain": ["P1","P1+DNA-PKi","P5","P5+DNA-PKi"], "range": ["#ff0000","#000000","#22e022","#a2abb3"]}, "legend": {"orient": "none", "legendX": 132, "legendY": -25, "title": null, "labelFontSize": 12, "symbolSize": 900, "symbolOpacity": 1, "symbolStrokeWidth": 1.5, "clipHeight": 13, "rowPadding": 0.5, "labelOffset": 5}}}},
  {"data": {"values": [{"t": 41, "v": 1.405, "txt": "H3"}]}, "mark": {"type": "text", "fontSize": 17, "align": "center", "baseline": "middle"}, "encoding": {"text": {"field": "txt"}}}
 ]
},
{
 "width": 217, "height": 171,
 "data": {"name": "rnf8"},
 "encoding": {
  "x": {"field": "t", "type": "quantitative", "scale": {"domain": [0, 90], "nice": false}, "axis": {"values": [0,15,30,45,60,75,90], "title": "Time (min)", "tickSize": -3, "labelPadding": 16, "titlePadding": 3}},
  "y": {"field": "v", "type": "quantitative", "scale": {"domain": [0, 1.2], "nice": false}, "axis": {"values": [0,0.3,0.6,0.9,1.2], "format": ".1f", "title": ["Relative enrichment", "of qPCR"], "tickSize": 4, "labelPadding": 2, "titlePadding": 4, "titleFontSize": 18, "titleLineHeight": 24}}
 },
 "resolve": {"scale": {"shape": "independent", "fill": "independent", "stroke": "independent"}},
 "layer": [
  {"mark": {"type": "line", "interpolate": "catmull-rom", "strokeWidth": 2}, "encoding": {"color": {"field": "series", "type": "nominal", "scale": {"domain": ["P1","P1+siRNF8","P5","P5+siRNF8"], "range": ["#ff0000","#000000","#22e022","#a2abb3"]}, "legend": null}}},
  {"transform": [{"filter": "datum.e > 0"}], "mark": {"type": "errorbar", "ticks": {"size": 5}, "color": "black", "thickness": 1.2}, "encoding": {"yError": {"field": "e"}}},
  {"mark": {"type": "point", "filled": true, "size": 26, "strokeWidth": 1, "opacity": 1}, "encoding": {
    "shape": {"field": "series", "type": "nominal", "scale": {"domain": ["P1","P1+siRNF8","P5","P5+siRNF8"], "range": ["circle","circle","triangle-down","triangle-up"]}, "legend": null},
    "fill": {"field": "series", "type": "nominal", "scale": {"domain": ["P1","P1+siRNF8","P5","P5+siRNF8"], "range": ["#000000","#ffffff","#1c3b1c","#ffffff"]}, "legend": null},
    "stroke": {"field": "series", "type": "nominal", "scale": {"domain": ["P1","P1+siRNF8","P5","P5+siRNF8"], "range": ["#000000","#000000","#1c3b1c","#555555"]}, "legend": null}}},
  {"mark": {"type": "point", "filled": true, "opacity": 0}, "encoding": {
    "shape": {"field": "series", "type": "nominal", "scale": {"domain": ["P1","P1+siRNF8","P5","P5+siRNF8"], "range": ["M-1,0L-0.17,0M0.17,0L1,0M0.17,0L0.12,0.12L0,0.17L-0.12,0.12L-0.17,0L-0.12,-0.12L0,-0.17L0.12,-0.12Z","M-1,0L-0.17,0M0.17,0L1,0M0.17,0L0.12,0.12L0,0.17L-0.12,0.12L-0.17,0L-0.12,-0.12L0,-0.17L0.12,-0.12Z","M-1,0L-0.11,0M0.11,0L1,0M-0.18,-0.13L0.18,-0.13L0,0.18Z","M-1,0L-0.11,0M0.11,0L1,0M-0.18,0.13L0.18,0.13L0,-0.18Z"]}, "legend": {"orient": "none", "legendX": 132, "legendY": -25, "title": null, "labelFontSize": 12, "symbolSize": 900, "symbolOpacity": 1, "symbolStrokeWidth": 1.5, "clipHeight": 13, "rowPadding": 0.5, "labelOffset": 5}},
    "fill": {"field": "series", "type": "nominal", "scale": {"domain": ["P1","P1+siRNF8","P5","P5+siRNF8"], "range": ["#000000","#ffffff","#1c3b1c","#ffffff"]}, "legend": {"orient": "none", "legendX": 132, "legendY": -25, "title": null, "labelFontSize": 12, "symbolSize": 900, "symbolOpacity": 1, "symbolStrokeWidth": 1.5, "clipHeight": 13, "rowPadding": 0.5, "labelOffset": 5}},
    "stroke": {"field": "series", "type": "nominal", "scale": {"domain": ["P1","P1+siRNF8","P5","P5+siRNF8"], "range": ["#ff0000","#000000","#22e022","#a2abb3"]}, "legend": {"orient": "none", "legendX": 132, "legendY": -25, "title": null, "labelFontSize": 12, "symbolSize": 900, "symbolOpacity": 1, "symbolStrokeWidth": 1.5, "clipHeight": 13, "rowPadding": 0.5, "labelOffset": 5}}}},
  {"data": {"values": [{"t": 36, "v": 1.405, "txt": "H3"}]}, "mark": {"type": "text", "fontSize": 17, "align": "center", "baseline": "middle"}, "encoding": {"text": {"field": "txt"}}},
  {"data": {"values": [{"t": -41, "v": 1.41, "txt": "C"}]}, "mark": {"type": "text", "fontSize": 18, "fontWeight": "bold", "align": "left", "baseline": "alphabetic"}, "encoding": {"text": {"field": "txt"}}}
 ]
}
]
}
